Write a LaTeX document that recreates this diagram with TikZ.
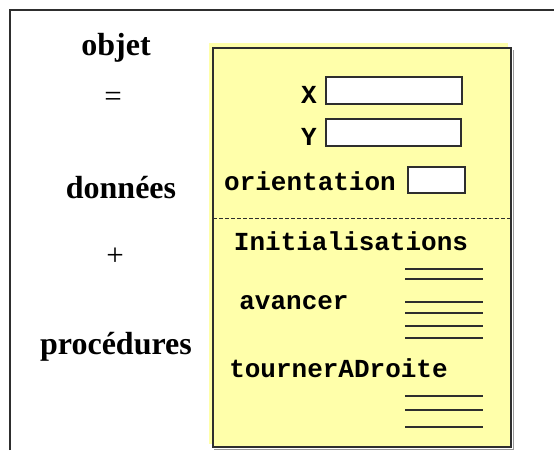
\documentclass[tikz,border=0pt]{standalone}
\usepackage{fontspec}
\setmainfont{Liberation Serif}
\setmonofont{Liberation Mono}
\definecolor{notepad}{HTML}{FFFFAA}
\definecolor{frameline}{HTML}{2E2E2E}
\tikzset{
  field/.style={draw=frameline,line width=1.2pt,fill=white,inner sep=0pt},
  titletext/.style={font=\fontsize{32}{36}\selectfont\bfseries,inner sep=0pt,anchor=base},
  signtext/.style={font=\fontsize{31}{35}\selectfont,inner sep=0pt,anchor=base},
  codetext/.style={font=\fontsize{26}{30}\selectfont\ttfamily\bfseries,inner sep=0pt,anchor=base},
  rule/.style={frameline,line width=1.3pt}
}
\begin{document}
\begin{tikzpicture}[x=1pt,y=-1pt]
  \useasboundingbox (0,0) rectangle (554,450);
  \draw[frameline,line width=1.5pt] (10,450) -- (10,10) -- (554,10);
  \node[titletext] (objet) at (116,55) {objet};
  \node[signtext] (egal) at (113,106) {=};
  \node[titletext] (donnees) at (121,198) {données};
  \node[signtext] (plus) at (115,265) {+};
  \node[titletext] (procedures) at (116,354) {procédures};
  \fill[notepad] (209,43) rectangle (508,444);
  \draw[black!40,line width=1pt] (214,449) -- (513,449) -- (513,50);
  \draw[frameline,line width=1.5pt,fill=notepad] (213,48) rectangle (511,447);
  \draw[frameline,line width=0.7pt,dash pattern=on 4pt off 2pt] (213,218) -- (511,218);
  \node[codetext] (x) at (309,103) {X};
  \node[field,minimum width=136pt,minimum height=27pt] (xval) at (394,90.5) {};
  \node[codetext] (y) at (309,145) {Y};
  \node[field,minimum width=135pt,minimum height=27pt] (yval) at (393.5,132.5) {};
  \node[codetext] (orient) at (310,190) {orientation};
  \node[field,minimum width=57pt,minimum height=26pt] (orientval) at (436.5,180) {};
  \node[codetext] (init) at (351,250) {Initialisations};
  \node[codetext] (avancer) at (294,309) {avancer};
  \node[codetext] (tourner) at (338.5,377) {tournerADroite};
  \foreach \y in {269,279,302,313,326,338,396,410,427}
    \draw[rule] (405,\y) -- (483,\y);
\end{tikzpicture}
\end{document}
